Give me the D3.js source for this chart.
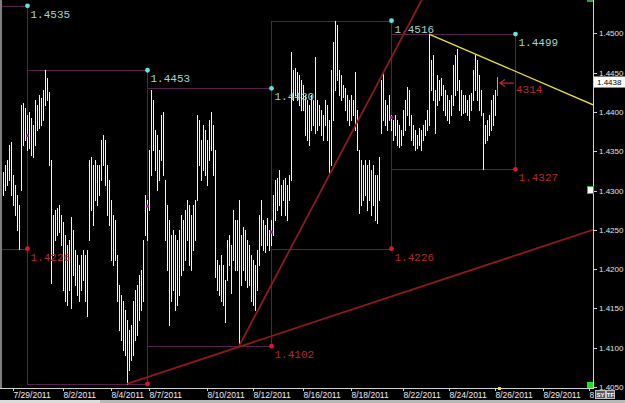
<!DOCTYPE html>
<html>
<head>
<meta charset="utf-8">
<script src="https://cdn.jsdelivr.net/npm/d3@7"></script>
<style>
html, body { margin: 0; padding: 0; background: #000; overflow: hidden; }
svg { display: block; }
</style>
</head>
<body>
<svg id="chart" width="625" height="403"></svg>
<script>
// 2-hour bars, one entry per bar
var highs = [
    1.4323,1.4332,1.4339,1.4358,1.4362,1.4320,1.4307,1.4294,1.4281,1.4409,
    1.4411,1.4405,1.4396,1.4400,1.4392,1.4383,1.4415,1.4409,1.4421,1.4418,
    1.4428,1.4453,1.4443,1.4425,1.4339,1.4269,1.4275,1.4278,1.4281,1.4269,
    1.4260,1.4243,1.4231,1.4237,1.4266,1.4250,1.4224,1.4218,1.4205,1.4218,
    1.4224,1.4218,1.4224,1.4339,1.4343,1.4332,1.4339,1.4332,1.4332,1.4364,
    1.4371,1.4364,1.4332,1.4313,1.4288,1.4269,1.4262,1.4218,1.4180,1.4167,
    1.4160,1.4148,1.4135,1.4122,1.4129,1.4160,1.4173,1.4180,1.4192,1.4199,
    1.4237,1.4294,1.4288,1.4351,1.4428,1.4415,1.4377,1.4371,1.4351,1.4396,
    1.4400,1.4313,1.4281,1.4262,1.4243,1.4250,1.4243,1.4237,1.4250,1.4269,
    1.4262,1.4275,1.4288,1.4281,1.4269,1.4281,1.4288,1.4396,1.4390,1.4364,
    1.4383,1.4377,1.4364,1.4390,1.4400,1.4383,1.4351,1.4211,1.4205,1.4218,
    1.4205,1.4186,1.4237,1.4243,1.4231,1.4275,1.4262,1.4262,1.4288,1.4243,
    1.4253,1.4250,1.4237,1.4231,1.4218,1.4211,1.4205,1.4224,1.4269,1.4288,
    1.4262,1.4256,1.4265,1.4250,1.4262,1.4294,1.4313,1.4316,1.4326,1.4307,
    1.4313,1.4316,1.4307,1.4320,1.4476,1.4453,1.4456,1.4451,1.4447,1.4441,
    1.4434,1.4421,1.4415,1.4409,1.4421,1.4415,1.4470,1.4415,1.4409,1.4402,
    1.4396,1.4415,1.4409,1.4390,1.4453,1.4489,1.4516,1.4511,1.4453,1.4447,
    1.4434,1.4430,1.4421,1.4415,1.4421,1.4415,1.4451,1.4402,1.4351,1.4339,
    1.4332,1.4339,1.4332,1.4339,1.4326,1.4332,1.4320,1.4320,1.4343,1.4441,
    1.4451,1.4415,1.4409,1.4421,1.4396,1.4390,1.4396,1.4390,1.4383,1.4377,
    1.4402,1.4415,1.4432,1.4428,1.4396,1.4383,1.4377,1.4371,1.4380,1.4377,
    1.4383,1.4390,1.4402,1.4499,1.4466,1.4472,1.4428,1.4447,1.4441,1.4443,
    1.4434,1.4428,1.4421,1.4415,1.4421,1.4460,1.4472,1.4480,1.4441,1.4428,
    1.4421,1.4421,1.4415,1.4421,1.4424,1.4453,1.4472,1.4466,1.4447,1.4428,
    1.4399,1.4383,1.4390,1.4396,1.4415,1.4421,1.4428,1.4444
];
var lows = [
    1.4294,1.4301,1.4307,1.4313,1.4294,1.4281,1.4269,1.4250,1.4226,1.4301,
    1.4358,1.4364,1.4351,1.4354,1.4345,1.4343,1.4358,1.4377,1.4380,1.4383,
    1.4390,1.4409,1.4415,1.4332,1.4182,1.4218,1.4237,1.4243,1.4247,1.4231,
    1.4173,1.4160,1.4154,1.4173,1.4150,1.4192,1.4180,1.4167,1.4160,1.4173,
    1.4186,1.4160,1.4140,1.4237,1.4275,1.4256,1.4288,1.4281,1.4294,1.4313,
    1.4332,1.4307,1.4269,1.4256,1.4211,1.4205,1.4211,1.4160,1.4122,1.4110,
    1.4097,1.4091,1.4054,1.4071,1.4084,1.4091,1.4110,1.4116,1.4135,1.4148,
    1.4160,1.4243,1.4237,1.4275,1.4320,1.4351,1.4326,1.4301,1.4313,1.4339,
    1.4320,1.4237,1.4199,1.4129,1.4160,1.4173,1.4148,1.4154,1.4167,1.4192,
    1.4199,1.4211,1.4237,1.4205,1.4199,1.4224,1.4237,1.4288,1.4332,1.4313,
    1.4326,1.4320,1.4307,1.4339,1.4351,1.4320,1.4190,1.4173,1.4167,1.4160,
    1.4154,1.4133,1.4186,1.4205,1.4169,1.4211,1.4199,1.4199,1.4102,1.4180,
    1.4199,1.4186,1.4177,1.4180,1.4160,1.4154,1.4148,1.4173,1.4205,1.4231,
    1.4224,1.4222,1.4231,1.4224,1.4231,1.4243,1.4262,1.4275,1.4281,1.4269,
    1.4288,1.4269,1.4262,1.4288,1.4313,1.4415,1.4421,1.4415,1.4409,1.4402,
    1.4402,1.4371,1.4364,1.4358,1.4377,1.4383,1.4373,1.4377,1.4383,1.4371,
    1.4364,1.4383,1.4364,1.4323,1.4332,1.4390,1.4428,1.4441,1.4421,1.4415,
    1.4419,1.4402,1.4390,1.4383,1.4390,1.4396,1.4377,1.4351,1.4271,1.4281,
    1.4288,1.4294,1.4275,1.4288,1.4269,1.4281,1.4262,1.4259,1.4288,1.4373,
    1.4390,1.4383,1.4377,1.4390,1.4377,1.4364,1.4371,1.4358,1.4355,1.4358,
    1.4371,1.4377,1.4396,1.4383,1.4364,1.4358,1.4351,1.4354,1.4358,1.4351,
    1.4364,1.4371,1.4377,1.4383,1.4428,1.4415,1.4373,1.4409,1.4415,1.4421,
    1.4402,1.4396,1.4390,1.4386,1.4396,1.4409,1.4421,1.4428,1.4402,1.4396,
    1.4399,1.4400,1.4396,1.4390,1.4402,1.4415,1.4428,1.4415,1.4402,1.4396,
    1.4327,1.4360,1.4364,1.4371,1.4377,1.4383,1.4396,1.4421
];

// weekly high / low boxes (bar index of week start / end)
var weekStart = [-10, 12, 72, 134, 194];
var weekEnd = [12, 72, 134, 194, 256];
var weekHigh = [1.4535, 1.4453, 1.4430, 1.4516, 1.4499];
var weekLow = [1.4226, 1.4054, 1.4102, 1.4226, 1.4327];
var weekMid = [1.4370, 1.4280, 1.4247, 1.4393];

// trend lines [bar index, price]
var supportLine = [[62, 1.4054], [295, 1.4250]];
var steepLine = [[118, 1.4102], [209.5, 1.4543]];
var resistLine = [[213, 1.4499], [295, 1.4409]];

var lastPrice = 1.4438;
var markerText = "4314";

var dateTicks = [5, 30, 54, 73, 102, 125, 150, 174, 200, 223, 246, 270, 293];
var dateLabels = ["7/29/2011", "8/2/2011", "8/4/2011", "8/7/2011", "8/10/2011", "8/12/2011",
    "8/16/2011", "8/18/2011", "8/22/2011", "8/24/2011", "8/26/2011", "8/29/2011", "8/31/2011"];

var W = 625, H = 403;
var svg = d3.select("#chart");
svg.append("rect").attr("width", W).attr("height", H).attr("fill", "#000");

var x = d3.scaleLinear().domain([0, 295]).range([3, 593]);
var y = d3.scaleLinear().domain([1.405, 1.45]).range([387, 33.3]);
var fmt = d3.format(".4f");

function px(i) { return Math.round(x(i)) + 0.5; }
function py(p) { return Math.round(y(p)) + 0.5; }

var defs = svg.append("defs");
defs.append("clipPath").attr("id", "plotclip")
    .append("rect").attr("x", 2).attr("y", 0).attr("width", 591).attr("height", 388);
defs.append("clipPath").attr("id", "xclip")
    .append("rect").attr("x", 0).attr("y", 388).attr("width", 594).attr("height", 15);

var plot = svg.append("g").attr("clip-path", "url(#plotclip)");

// weekly boxes
weekHigh.forEach(function (h, k) {
    plot.append("rect")
        .attr("x", px(weekStart[k]))
        .attr("y", py(h))
        .attr("width", px(weekEnd[k]) - px(weekStart[k]))
        .attr("height", py(weekLow[k]) - py(h))
        .attr("fill", "none")
        .attr("stroke", "#57204f")
        .attr("stroke-width", 1);
});

// price bars
plot.selectAll(".bar").data(highs).enter().append("line").attr("class", "bar")
    .attr("x1", function (d, i) { return px(i); })
    .attr("x2", function (d, i) { return px(i); })
    .attr("y1", function (d) { return Math.round(y(d)); })
    .attr("y2", function (d, i) { return Math.round(y(lows[i])) + 1; })
    .attr("stroke", function (d, i) { return i === highs.length - 1 ? "#3cc8c8" : "#f2f2f2"; })
    .attr("stroke-width", 1);

// week mid markers
weekMid.forEach(function (m, k) {
    plot.append("circle").attr("cx", px(weekEnd[k])).attr("cy", y(m)).attr("r", 1.6).attr("fill", "#a020a0");
});

// dots + labels
weekHigh.forEach(function (h, k) {
    var cx = px(weekEnd[k]);
    plot.append("circle").attr("cx", cx).attr("cy", y(h)).attr("r", 2.4).attr("fill", "#5fe3e3");
    plot.append("text").attr("x", cx + 3).attr("y", y(h) + 12)
        .attr("fill", "#a6d2d2").style("font", "11px 'Liberation Mono', monospace")
        .text(fmt(h));
    plot.append("circle").attr("cx", cx).attr("cy", y(weekLow[k])).attr("r", 2.4).attr("fill", "#e3142a");
    plot.append("text").attr("x", cx + 3).attr("y", y(weekLow[k]) + 12)
        .attr("fill", "#b32a2a").style("font", "11px 'Liberation Mono', monospace")
        .text(fmt(weekLow[k]));
});

// trend lines
var tl = d3.line().x(function (d) { return x(d[0]); }).y(function (d) { return y(d[1]); });
plot.append("path").attr("d", tl(supportLine)).attr("fill", "none").attr("stroke", "#8c1a1a").attr("stroke-width", 1.8);
plot.append("path").attr("d", tl(steepLine)).attr("fill", "none").attr("stroke", "#8c1a1a").attr("stroke-width", 1.8);
plot.append("path").attr("d", tl(resistLine)).attr("fill", "none").attr("stroke", "#e8e030").attr("stroke-width", 1.3);

// arrow to last bar
var ax = x(highs.length - 1) + 3, ay = y(lastPrice) + 1;
plot.append("path")
    .attr("d", "M" + (ax + 14) + "," + ay + "H" + ax + "M" + (ax + 5) + "," + (ay - 3.5) + "L" + ax + "," + ay + "L" + (ax + 5) + "," + (ay + 3.5))
    .attr("fill", "none").attr("stroke", "#b82828").attr("stroke-width", 1.2);
plot.append("text").attr("x", ax + 16).attr("y", ay + 10)
    .attr("fill", "#b82828").style("font", "11px 'Liberation Mono', monospace")
    .text(markerText);

// left border strip
svg.append("rect").attr("x", 0).attr("y", 0).attr("width", 2).attr("height", 388).attr("fill", "#7f7f7f");

// x axis
svg.append("line").attr("x1", 0).attr("x2", 594).attr("y1", 388.5).attr("y2", 388.5).attr("stroke", "#d0d0d0");
var xg = svg.append("g").attr("clip-path", "url(#xclip)");
dateTicks.forEach(function (t, k) {
    var tx = px(t);
    xg.append("line").attr("x1", tx).attr("x2", tx).attr("y1", 388).attr("y2", 391).attr("stroke", "#d0d0d0");
    xg.append("text").attr("x", tx).attr("y", 397.5)
        .attr("fill", "#ececec").style("font", "8.5px 'Liberation Sans Narrow', 'Liberation Sans', sans-serif")
        .text(dateLabels[k]);
});
svg.append("rect").attr("x", px(highs.length - 1) + 0.5).attr("y", 387).attr("width", 3).attr("height", 3).attr("fill", "#e8e020");

// y axis
svg.append("line").attr("x1", 593.5).attr("x2", 593.5).attr("y1", 0).attr("y2", 389).attr("stroke", "#d0d0d0");
y.ticks(10).forEach(function (t) {
    var ty = py(t);
    svg.append("line").attr("x1", 594).attr("x2", 597).attr("y1", ty).attr("y2", ty).attr("stroke", "#d0d0d0");
    svg.append("text").attr("x", 599).attr("y", ty).attr("dy", "0.35em")
        .attr("fill", "#e0e0e0").style("font", "8px 'Liberation Sans', Arial, sans-serif")
        .text(fmt(t));
});

// last price tag
svg.append("rect").attr("x", 594).attr("y", y(lastPrice) - 5.5).attr("width", 31).attr("height", 11).attr("fill", "#fff");
svg.append("text").attr("x", 597).attr("y", y(lastPrice)).attr("dy", "0.35em")
    .attr("fill", "#000").style("font", "8px 'Liberation Sans', Arial, sans-serif")
    .text(fmt(lastPrice));

// small markers on the axis
svg.append("rect").attr("x", 587).attr("y", 0).attr("width", 6).attr("height", 2).attr("fill", "#3a9a3a");
svg.append("rect").attr("x", 587.5).attr("y", 186.5).attr("width", 6).attr("height", 7).attr("fill", "#fff").attr("stroke", "#2bbf2b");
svg.append("rect").attr("x", 587).attr("y", 382).attr("width", 6).attr("height", 6).attr("fill", "#19e619");

// SY / TF buttons
[["SY", 595, 10], ["TF", 606, 8]].forEach(function (b) {
    svg.append("rect").attr("x", b[1] + 0.5).attr("y", 390.5).attr("width", b[2]).attr("height", 8)
        .attr("fill", "#5a5a5a").attr("stroke", "#c0c0c0");
    svg.append("text").attr("x", b[1] + 0.5 + b[2] / 2).attr("y", 397).attr("text-anchor", "middle")
        .attr("fill", "#fff").style("font", "bold 6px 'Liberation Sans', Arial, sans-serif")
        .text(b[0]);
});

// bottom scroll strip
svg.append("rect").attr("x", 0).attr("y", 400).attr("width", W).attr("height", 3).attr("fill", "#b8b8b8");
svg.append("rect").attr("x", 0).attr("y", 400).attr("width", 100).attr("height", 3).attr("fill", "#dcdcdc");
</script>
</body>
</html>
